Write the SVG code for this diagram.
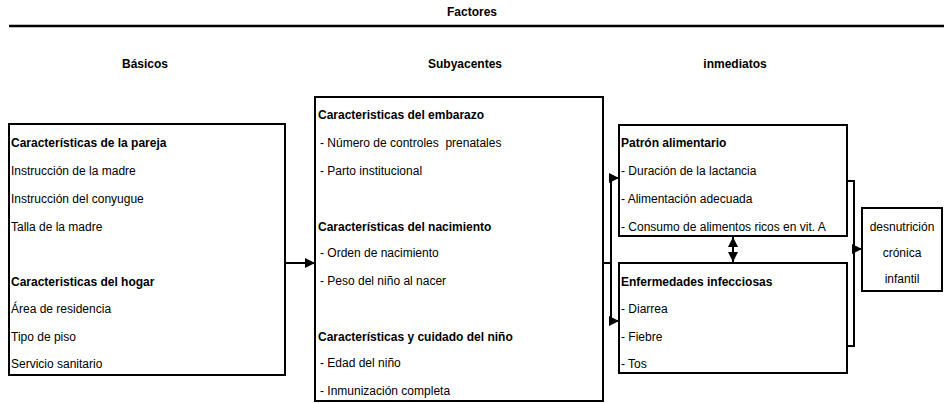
<svg xmlns="http://www.w3.org/2000/svg" width="944" height="403" viewBox="0 0 944 403">
<style>
text{font-family:"Liberation Sans Narrow","Arial Narrow","Liberation Sans",Arial,sans-serif;font-size:12px;fill:#000}
.b{font-weight:bold}
.m{text-anchor:middle}
.box{fill:#fff;stroke:#000;stroke-width:2}
.c{fill:none;stroke:#000;stroke-width:2}
</style>
<defs>
<marker id="ah" viewBox="0 0 10 10" refX="10" refY="5" markerWidth="10" markerHeight="10" markerUnits="userSpaceOnUse" orient="auto-start-reverse">
<path d="M0,0 L10,5 L0,10 Z" fill="#000"/>
</marker>
</defs>
<rect width="944" height="403" fill="#fff"/>
<g id="header">
<text class="b m" x="472" y="16">Factores</text>
<line x1="9" y1="26" x2="944" y2="26" stroke="#000" stroke-width="2.5"/>
<text class="b m" x="145" y="68">Básicos</text>
<text class="b m" x="465" y="68">Subyacentes</text>
<text class="b m" x="735" y="68">inmediatos</text>
</g>
<g id="basicos">
<rect class="box" x="9" y="124" width="276" height="251"/>
<text class="b" x="11" y="147">Características de la pareja</text>
<text x="11" y="175">Instrucción de la madre</text>
<text x="11" y="203">Instrucción del conyugue</text>
<text x="11" y="231">Talla de la madre</text>
<text class="b" x="11" y="286">Caracteristicas del hogar</text>
<text x="11" y="313">Área de residencia</text>
<text x="11" y="341">Tipo de piso</text>
<text x="11" y="368">Servicio sanitario</text>
</g>
<g id="subyacentes">
<rect class="box" x="315" y="97" width="288" height="304"/>
<text class="b" x="318" y="119">Caracteristicas del embarazo</text>
<text x="320" y="147" xml:space="preserve">- Número de controles  prenatales</text>
<text x="320" y="175">- Parto institucional</text>
<text class="b" x="318" y="231">Características del nacimiento</text>
<text x="320" y="257">- Orden de nacimiento</text>
<text x="320" y="285">- Peso del niño al nacer</text>
<text class="b" x="318" y="341">Características y cuidado del niño</text>
<text x="320" y="367">- Edad del niño</text>
<text x="320" y="395">- Inmunización completa</text>
</g>
<g id="patron">
<rect class="box" x="619" y="125" width="228" height="111"/>
<text class="b" x="621" y="147">Patrón alimentario</text>
<text x="621" y="175">- Duración de la lactancia</text>
<text x="621" y="203">- Alimentación adecuada</text>
<text x="621" y="231">- Consumo de alimentos ricos en vit. A</text>
</g>
<g id="enfermedades">
<rect class="box" x="619" y="263" width="228" height="110"/>
<text class="b" x="621" y="286">Enfermedades infecciosas</text>
<text x="621" y="313">- Diarrea</text>
<text x="621" y="341">- Fiebre</text>
<text x="621" y="368">- Tos</text>
</g>
<g id="desnutricion">
<rect class="box" x="862" y="208" width="80" height="83"/>
<text class="m" x="902" y="231">desnutrición</text>
<text class="m" x="902" y="257">crónica</text>
<text class="m" x="902" y="283">infantil</text>
</g>
<g id="connectors">
<line class="c" x1="285" y1="263" x2="315" y2="263" marker-end="url(#ah)"/>
<line class="c" x1="603" y1="263" x2="611" y2="263"/>
<line class="c" x1="611" y1="178" x2="611" y2="321"/>
<line class="c" x1="610" y1="178" x2="619" y2="178" marker-end="url(#ah)"/>
<line class="c" x1="610" y1="321" x2="619" y2="321" marker-end="url(#ah)"/>
<line class="c" x1="733" y1="237" x2="733" y2="262" marker-start="url(#ah)" marker-end="url(#ah)"/>
<polyline class="c" points="847,181 854,181 854,346 847,346"/>
<line class="c" x1="854" y1="249" x2="862" y2="249" marker-end="url(#ah)"/>
</g>
</svg>
